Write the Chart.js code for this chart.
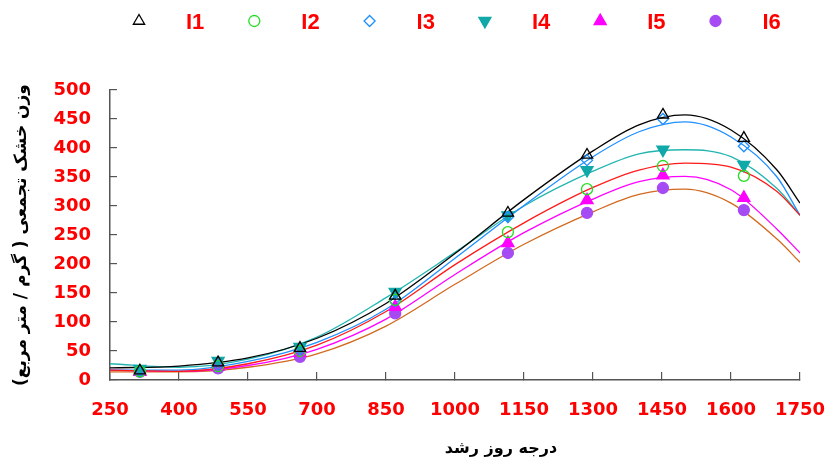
<!DOCTYPE html>
<html>
<head>
<meta charset="utf-8">
<script src="https://cdn.jsdelivr.net/npm/chart.js@4.4.1/dist/chart.umd.min.js"></script>
<style>
  html, body { margin: 0; padding: 0; background: #fff; }
</style>
</head>
<body>
<canvas id="gddChart" width="827" height="461"></canvas>
<script>
// -----------------------
// data
// -----------------------
const seriesNames = ["I1", "I2", "I3", "I4", "I5", "I6"];

// measured points (growing degree days)
const gddPoints = [315, 485, 663, 870, 1115, 1287, 1452, 1628];
const i1Points = [16, 30, 55, 145, 288, 388, 457, 417];
const i2Points = [15, 24, 50, 138, 255, 329, 369, 352];
const i3Points = [15, 26, 52, 136, 281, 379, 450, 403];
const i4Points = [19, 33, 57, 152, 284, 362, 397, 371];
const i5Points = [14, 23, 47, 126, 236, 310, 353, 314];
const i6Points = [14, 20, 40, 115, 219, 288, 331, 293];

const gddCurve = [250, 400, 550, 700, 850, 1000, 1150, 1300, 1400, 1500, 1600, 1700, 1750];
const i1Curve = [21, 24, 38, 72, 132, 218, 311, 395, 440, 457, 431, 362, 305];
const i2Curve = [17, 15, 28, 60, 118, 199, 271, 332, 362, 374, 367, 325, 284];
const i3Curve = [17, 17, 32, 65, 122, 210, 301, 385, 428, 445, 419, 350, 284];
const i4Curve = [28, 22, 36, 74, 142, 220, 300, 360, 390, 397, 385, 330, 284];
const i5Curve = [17, 15, 25, 53, 105, 182, 254, 312, 342, 351, 328, 260, 219];
const i6Curve = [14, 14, 22, 45, 93, 165, 234, 290, 320, 329, 305, 243, 203];

const xTicks = [250, 400, 550, 700, 850, 1000, 1150, 1300, 1450, 1600, 1750];
const yTicks = [0, 50, 100, 150, 200, 250, 300, 350, 400, 450, 500];

const yTitle = "وزن خشک تجمعی ( گرم / متر مربع)";
const xTitle = "درجه روز رشد";

// -----------------------
// styles
// -----------------------
const lineColors = ["#000000", "#ff1a1a", "#1e8fff", "#22b5b0", "#ff00ff", "#d2691e"];
const markers = [
    { shape: "triangle", rot: 0, stroke: "#000000", fill: null, r: 6.5 },
    { shape: "circle", rot: 0, stroke: "#22dd22", fill: null, r: 5.5 },
    { shape: "rectRot", rot: 0, stroke: "#1e8fff", fill: null, r: 5.5 },
    { shape: "triangle", rot: 180, stroke: "#10a8a8", fill: "#10a8a8", r: 7 },
    { shape: "triangle", rot: 0, stroke: "#ff00ff", fill: "#ff00ff", r: 7 },
    { shape: "circle", rot: 0, stroke: "#a64bf4", fill: "#a64bf4", r: 5.5 }
];

const pointSets = [i1Points, i2Points, i3Points, i4Points, i5Points, i6Points];
const curveSets = [i1Curve, i2Curve, i3Curve, i4Curve, i5Curve, i6Curve];

const toXY = (xs, ys) => xs.map((x, i) => ({ x: x, y: ys[i] }));

const datasets = [];
curveSets.forEach((ys, i) => {
    datasets.push({
        label: seriesNames[i] + " fit",
        data: toXY(gddCurve, ys),
        showLine: true,
        borderColor: lineColors[i],
        borderWidth: 1.3,
        pointRadius: 0,
        cubicInterpolationMode: "monotone",
        order: 2
    });
});
pointSets.forEach((ys, i) => {
    const m = markers[i];
    datasets.push({
        label: seriesNames[i],
        data: toXY(gddPoints, ys),
        showLine: false,
        pointStyle: m.shape,
        rotation: m.rot,
        pointRadius: m.r,
        pointBorderWidth: 1.3,
        pointBorderColor: m.stroke,
        pointBackgroundColor: m.fill || "rgba(0,0,0,0)",
        order: 1
    });
});

// legend drawn along the top, marker then red label
function drawMarker(ctx, m, x, y) {
    const r = m.r;
    ctx.beginPath();
    if (m.shape === "circle") {
        ctx.arc(x, y, r, 0, Math.PI * 2);
    } else if (m.shape === "rectRot") {
        ctx.moveTo(x, y - r); ctx.lineTo(x + r, y); ctx.lineTo(x, y + r); ctx.lineTo(x - r, y);
    } else {
        const s = m.rot === 180 ? -1 : 1;
        const h = r * Math.sin(Math.PI / 3);
        ctx.moveTo(x, y - s * r);
        ctx.lineTo(x - h, y + s * r / 2);
        ctx.lineTo(x + h, y + s * r / 2);
    }
    ctx.closePath();
    if (m.fill) { ctx.fillStyle = m.fill; ctx.fill(); }
    ctx.lineWidth = 1.3;
    ctx.strokeStyle = m.stroke;
    ctx.stroke();
}

const topLegend = {
    id: "topLegend",
    afterDraw(chart) {
        const ctx = chart.ctx;
        ctx.save();
        seriesNames.forEach((name, i) => {
            const x = 139 + i * 115.3;
            drawMarker(ctx, markers[i], x, 21);
            ctx.fillStyle = "#ff0000";
            ctx.font = "bold 22px 'Liberation Sans', Arial, sans-serif";
            ctx.textBaseline = "middle";
            ctx.textAlign = "left";
            ctx.fillText(name, x + 47, 23);
        });
        ctx.restore();
    }
};

// x axis title sits a little right of the plot centre
const xTitlePlugin = {
    id: "xTitlePlugin",
    afterDraw(chart) {
        const ctx = chart.ctx;
        const area = chart.chartArea;
        ctx.save();
        ctx.fillStyle = "#000";
        ctx.font = "bold 16px 'DejaVu Sans', sans-serif";
        ctx.textAlign = "center";
        ctx.textBaseline = "middle";
        ctx.fillText(xTitle, (area.left + area.right) / 2 + 46, 449);
        ctx.restore();
    }
};

new Chart(document.getElementById("gddChart").getContext("2d"), {
    type: "scatter",
    data: { datasets: datasets },
    options: {
        responsive: false,
        animation: false,
        layout: { padding: { top: 90, right: 0, left: 0, bottom: 0 } },
        plugins: {
            legend: { display: false },
            tooltip: { enabled: false }
        },
        scales: {
            x: {
                type: "linear",
                min: 250,
                max: 1750,
                afterBuildTicks: s => { s.ticks = xTicks.map(v => ({ value: v })); },
                afterFit: s => { s.height = 81; s.paddingRight = 27; s.paddingLeft = 0; },
                border: { display: true, color: "#555", width: 1.5 },
                grid: { drawOnChartArea: false, drawTicks: true, tickLength: -8, color: "#555", lineWidth: 1.2 },
                ticks: {
                    color: "#ff0000",
                    padding: 28,
                    maxRotation: 0,
                    callback: v => String(v),
                    font: { family: "'DejaVu Sans', sans-serif", size: 18, weight: "bold" }
                }
            },
            y: {
                min: 0,
                max: 500,
                afterBuildTicks: s => { s.ticks = yTicks.map(v => ({ value: v })); },
                afterFit: s => { s.width = 110; },
                border: { display: true, color: "#555", width: 1.5 },
                grid: { drawOnChartArea: false, drawTicks: true, tickLength: -7, color: "#555", lineWidth: 1.2 },
                ticks: {
                    color: "#ff0000",
                    padding: 26,
                    callback: v => String(v),
                    font: { family: "'DejaVu Sans', sans-serif", size: 18, weight: "bold" }
                },
                title: {
                    display: true,
                    text: yTitle,
                    color: "#000",
                    padding: { top: 11, bottom: 0 },
                    font: { family: "'DejaVu Sans', sans-serif", size: 17, weight: "bold" }
                }
            }
        }
    },
    plugins: [topLegend, xTitlePlugin]
});
</script>
</body>
</html>
